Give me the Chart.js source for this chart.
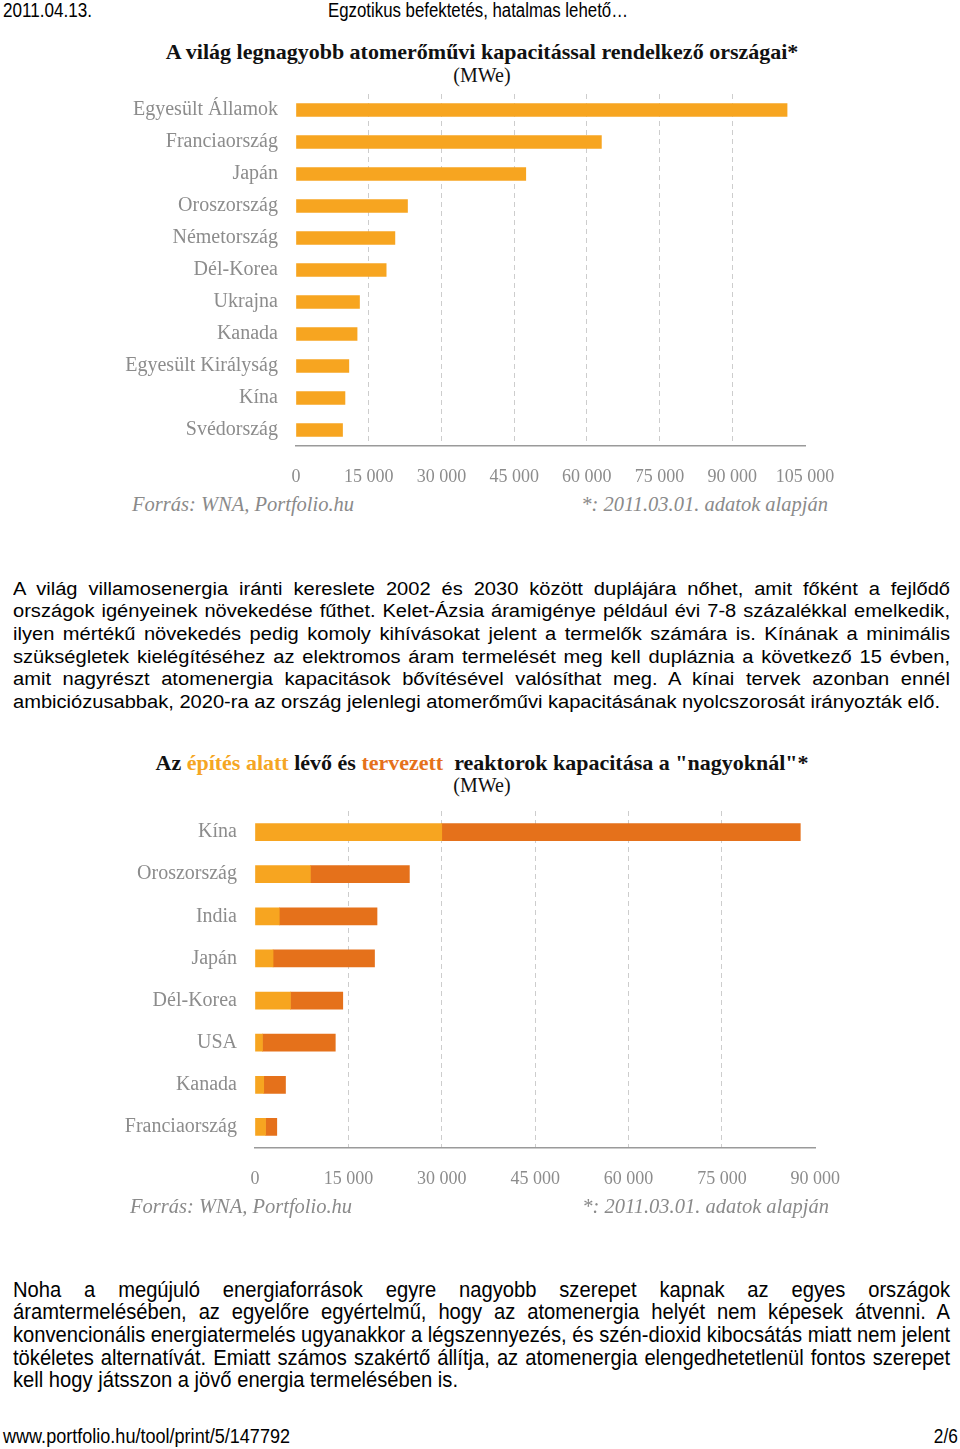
<!DOCTYPE html>
<html lang="hu">
<head>
<meta charset="utf-8">
<script src="https://cdn.jsdelivr.net/npm/chart.js@4.4.0/dist/chart.umd.min.js"></script>
<style>
  body { margin: 0; background: #fff; width: 960px; height: 1449px; position: relative; overflow: hidden; }
  .abs { position: absolute; }
  .narrow { font-family: "Liberation Sans", Arial, sans-serif; color: #000; white-space: nowrap; }
  .title { left: 0; width: 964px; text-align: center; font-family: "Liberation Serif", serif; color: #111; white-space: nowrap; }
  .title b { font-size: 22px; }
  .unit { font-size: 20px; }
  .src { font-family: "Liberation Serif", serif; font-style: italic; font-size: 20.5px; color: #8a8a8a; white-space: nowrap; line-height: 22px; }
  .para { left: 13px; font-family: "Liberation Sans", Arial, sans-serif; font-size: 18px; color: #000; }
  .para span { display: inline-block; white-space: nowrap; transform-origin: 0 50%; }
  .para div { height: 22.7px; line-height: 22.7px; }
  canvas { position: absolute; }
</style>
</head>
<body>
<div class="abs narrow" id="hdrL" style="left:3px;top:0;font-size:20px;line-height:20px;">2011.04.13.</div>
<div class="abs narrow" id="hdrR" style="left:328px;top:0;font-size:20px;line-height:20px;">Egzotikus befektetés, hatalmas lehető…</div>

<div class="abs title" style="top:40px;line-height:24px;"><b>A világ legnagyobb atomerőművi kapacitással rendelkező országai*</b></div>
<div class="abs title unit" style="top:64px;line-height:22px;">(MWe)</div>
<canvas id="chart1" width="760" height="436" style="left:100px;top:54px;"></canvas>
<div class="abs src" style="left:132px;top:493px;">Forrás: WNA, Portfolio.hu</div>
<div class="abs src" style="right:132px;top:493px;">*: 2011.03.01. adatok alapján</div>

<div class="abs para" id="p1" style="top:577.5px;">
  <div><span>A világ villamosenergia iránti kereslete 2002 és 2030 között duplájára nőhet, amit főként a fejlődő</span></div>
  <div><span>országok igényeinek növekedése fűthet. Kelet-Ázsia áramigénye például évi 7-8 százalékkal emelkedik,</span></div>
  <div><span>ilyen mértékű növekedés pedig komoly kihívásokat jelent a termelők számára is. Kínának a minimális</span></div>
  <div><span>szükségletek kielégítéséhez az elektromos áram termelését meg kell dupláznia a következő 15 évben,</span></div>
  <div><span>amit nagyrészt atomenergia kapacitások bővítésével valósíthat meg. A kínai tervek azonban ennél</span></div>
  <div><span>ambiciózusabbak, 2020-ra az ország jelenlegi atomerőművi kapacitásának nyolcszorosát irányozták elő.</span></div>
</div>

<div class="abs title" style="top:751px;line-height:24px;"><b>Az <span style="color:#f5a623">építés alatt</span> lévő és <span style="color:#e5711b">tervezett</span>&nbsp; reaktorok kapacitása a "nagyoknál"*</b></div>
<div class="abs title unit" style="top:774px;line-height:22px;">(MWe)</div>
<canvas id="chart2" width="760" height="429" style="left:100px;top:771px;"></canvas>
<div class="abs src" style="left:130px;top:1195px;">Forrás: WNA, Portfolio.hu</div>
<div class="abs src" style="right:131px;top:1195px;">*: 2011.03.01. adatok alapján</div>

<div class="abs para" id="p2" style="top:1278.5px;font-size:22px;">
  <div><span>Noha a megújuló energiaforrások egyre nagyobb szerepet kapnak az egyes országok</span></div>
  <div><span>áramtermelésében, az egyelőre egyértelmű, hogy az atomenergia helyét nem képesek átvenni. A</span></div>
  <div><span>konvencionális energiatermelés ugyanakkor a légszennyezés, és szén-dioxid kibocsátás miatt nem jelent</span></div>
  <div><span>tökéletes alternatívát. Emiatt számos szakértő állítja, az atomenergia elengedhetetlenül fontos szerepet</span></div>
  <div><span>kell hogy játsszon a jövő energia termelésében is.</span></div>
</div>

<div class="abs narrow" id="ftrL" style="left:3px;top:1426px;font-size:20px;line-height:20px;">www.portfolio.hu/tool/print/5/147792</div>
<div class="abs narrow" id="ftrR" style="right:2px;top:1426px;font-size:20px;line-height:20px;">2/6</div>

<script>
const countries1 = ["Egyesült Államok", "Franciaország", "Japán", "Oroszország", "Németország", "Dél-Korea",
  "Ukrajna", "Kanada", "Egyesült Királyság", "Kína", "Svédország"];
const capacity1 = [101300, 63000, 47400, 23000, 20400, 18600, 13100, 12600, 10900, 10100, 9600];
const max1 = 105000;

const countries2 = ["Kína", "Oroszország", "India", "Japán", "Dél-Korea", "USA", "Kanada", "Franciaország"];
const underConstruction = [30000, 8900, 3900, 2900, 5700, 1200, 1400, 1700];
const planned = [57600, 15900, 15700, 16300, 8400, 11700, 3500, 1800];
const max2 = 90000;

const step = 15000;
const LIGHT = "#f7a520";
const DARK = "#e5711b";
const GREY = "#8c8c8c";

function fmt(v) {
  return String(v).replace(/\B(?=(\d{3})+(?!\d))/g, " ");
}

function makeOptions(max, yWidth, padTop, padRight, xHeight, stacked) {
  return {
    indexAxis: "y",
    responsive: false,
    animation: false,
    plugins: { legend: { display: false }, tooltip: { enabled: false } },
    layout: { padding: { top: padTop, right: padRight, left: 0, bottom: 0 } },
    scales: {
      x: {
        stacked: stacked,
        min: 0,
        max: max,
        afterFit: (s) => { s.height = xHeight; },
        ticks: {
          stepSize: step,
          padding: 20,
          maxRotation: 0,
          autoSkip: false,
          color: GREY,
          font: { family: "Liberation Serif", size: 18 },
          callback: (v) => fmt(v),
        },
        grid: {
          drawTicks: false,
          lineWidth: 1,
          color: (ctx) => (ctx.tick && (ctx.tick.value === 0 || ctx.tick.value === max)) ? "rgba(0,0,0,0)" : "#cdcdcd",
        },
        border: { display: true, color: "#9a9a9a", width: 1.5, dash: [5, 4] },
      },
      y: {
        stacked: stacked,
        afterFit: (s) => { s.width = yWidth; },
        grid: { display: false, drawTicks: false },
        border: { display: false },
        ticks: {
          padding: 18,
          color: GREY,
          font: { family: "Liberation Serif", size: 20 },
        },
      },
    },
  };
}

new Chart(document.getElementById("chart1").getContext("2d"), {
  type: "bar",
  data: {
    labels: countries1,
    datasets: [{ data: capacity1, backgroundColor: LIGHT, barThickness: 13 }],
  },
  options: makeOptions(max1, 196, 40, 55, 44, false),
});

new Chart(document.getElementById("chart2").getContext("2d"), {
  type: "bar",
  data: {
    labels: countries2,
    datasets: [
      { label: "építés alatt", data: underConstruction, backgroundColor: LIGHT, barThickness: 17 },
      { label: "tervezett", data: planned, backgroundColor: DARK, barThickness: 17 },
    ],
  },
  options: makeOptions(max2, 155, 40, 42, 52, true),
});

// justify each line to the page width, condense the font to match the last line
function fitParagraph(id, fullWidth, lastWidth) {
  const spans = Array.from(document.querySelectorAll("#" + id + " span"));
  const last = spans[spans.length - 1];
  const s = lastWidth / last.getBoundingClientRect().width;
  spans.forEach((el, i) => {
    const nat = el.getBoundingClientRect().width;
    const gaps = (el.textContent.match(/ /g) || []).length;
    if (i < spans.length - 1 && gaps) {
      el.style.wordSpacing = ((fullWidth / s - nat) / gaps) + "px";
    }
    el.style.transform = "scaleX(" + s + ")";
  });
}
function fitWidth(id, width) {
  const el = document.getElementById(id);
  const w = el.getBoundingClientRect().width;
  el.style.transformOrigin = el.style.right ? "100% 50%" : "0 50%";
  el.style.transform = "scaleX(" + (width / w) + ")";
}
fitParagraph("p1", 937, 927);
fitParagraph("p2", 937, 445);
fitWidth("hdrL", 89);
fitWidth("hdrR", 300);
fitWidth("ftrL", 287);
fitWidth("ftrR", 24);
</script>
</body>
</html>
